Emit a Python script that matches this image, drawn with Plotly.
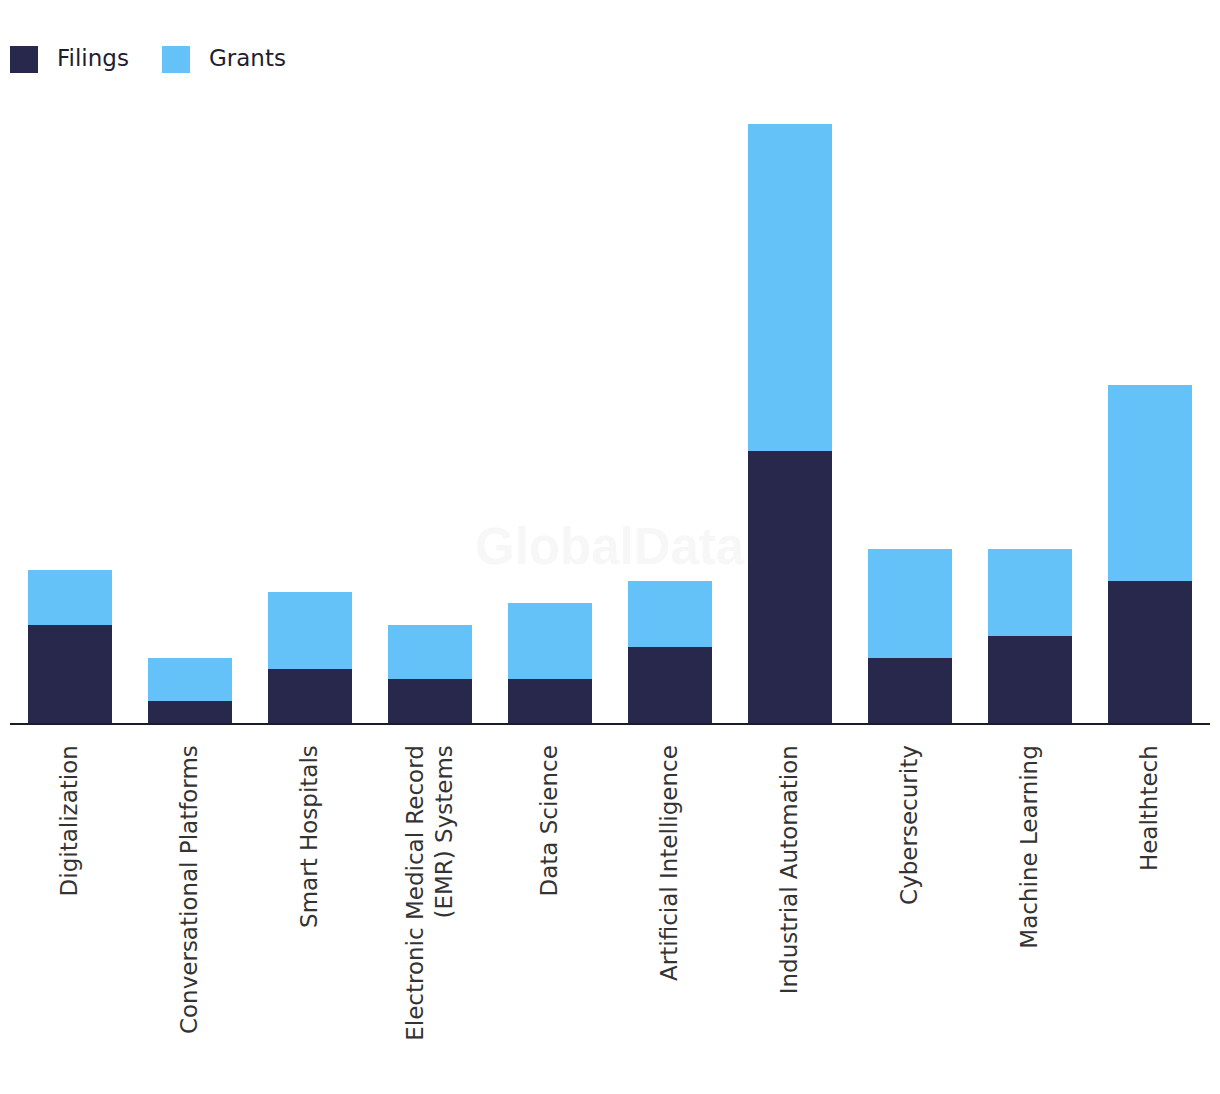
import plotly.graph_objects as go

categories = [
    "Digitalization",
    "Conversational Platforms",
    "Smart Hospitals",
    "Electronic Medical Record<br>(EMR) Systems",
    "Data Science",
    "Artificial Intelligence",
    "Industrial Automation",
    "Cybersecurity",
    "Machine Learning",
    "Healthtech",
]
filings = [9, 2, 5, 4, 4, 7, 25, 6, 8, 13]
grants = [5, 4, 7, 5, 7, 6, 30, 10, 8, 18]

FILINGS_COLOR = "#27284b"
GRANTS_COLOR = "#64c2f9"
FONT = "DejaVu Sans"

fig = go.Figure()
fig.add_trace(go.Bar(x=categories, y=filings, name="Filings",
                     marker=dict(color=FILINGS_COLOR, line=dict(width=0))))
fig.add_trace(go.Bar(x=categories, y=grants, name="Grants",
                     marker=dict(color=GRANTS_COLOR, line=dict(width=0))))

W, H = 1220, 1094
ml, mr, mt, mb = 10, 10, 105, 371

fig.update_layout(
    width=W, height=H,
    barmode="stack",
    bargap=0.3,
    showlegend=False,
    plot_bgcolor="white",
    paper_bgcolor="white",
    margin=dict(l=ml, r=mr, t=mt, b=mb, autoexpand=False),
    font=dict(family=FONT, color="#333333"),
    xaxis=dict(
        showline=True, linecolor="#1b1b2f", linewidth=2,
        tickangle=-90, ticks="", ticklabelstandoff=11,
        tickfont=dict(family=FONT, size=23, color="#333333"),
        showgrid=False, zeroline=False,
    ),
    yaxis=dict(range=[0, 56.7], visible=False, showgrid=False, zeroline=False),
)

# watermark
fig.add_annotation(text="<b>GlobalData</b>", x=(610 - ml) / (W - ml - mr), y=(H - mb - 546) / (H - mt - mb),
                   xref="paper", yref="paper",
                   showarrow=False, font=dict(family="Liberation Sans", size=51, color="#f7f7f7"),
                   xanchor="center", yanchor="middle")

# manual legend (pixel coords converted to paper)
def px_x(x):
    return (x - ml) / (W - ml - mr)

def px_y(y):
    return (H - mb - y) / (H - mt - mb)

legend_items = [("Filings", FILINGS_COLOR, 10, 55), ("Grants", GRANTS_COLOR, 162, 207)]
for name, color, sx, tx in legend_items:
    fig.add_shape(type="rect", xref="paper", yref="paper",
                  x0=px_x(sx), x1=px_x(sx + 28), y0=px_y(73), y1=px_y(46),
                  fillcolor=color, line=dict(width=0))
    fig.add_annotation(text=name, xref="paper", yref="paper", x=px_x(tx), y=px_y(57.5),
                       xanchor="left", yanchor="middle", showarrow=False,
                       font=dict(family=FONT, size=23, color="#1e1e30"))

fig.write_html("out.html", config={"displayModeBar": False})
